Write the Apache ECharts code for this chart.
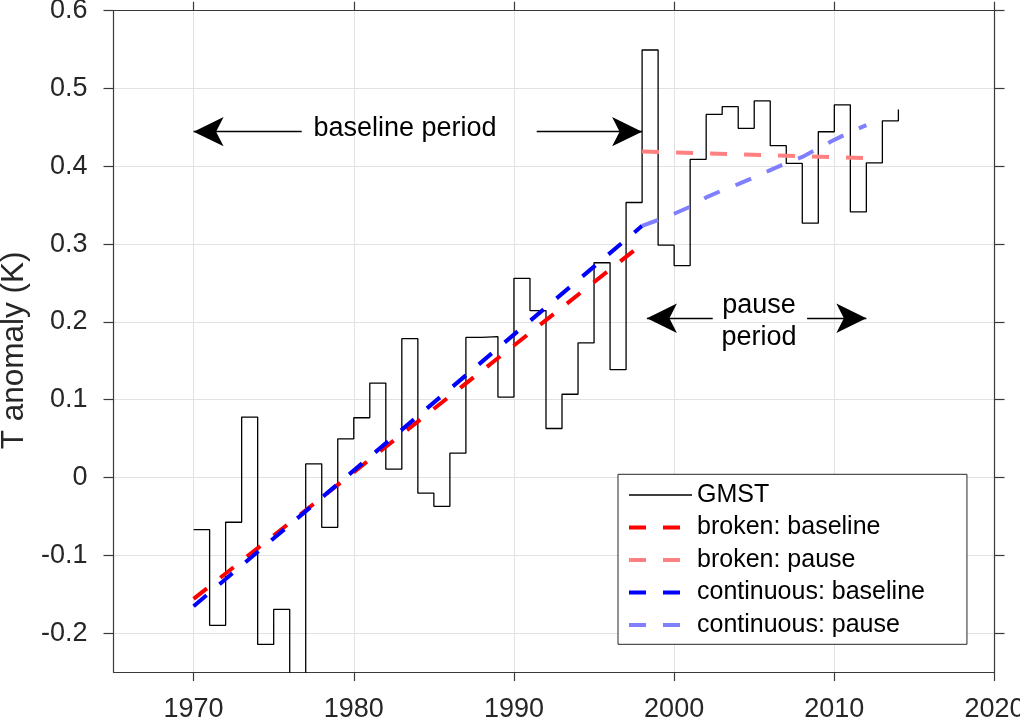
<!DOCTYPE html>
<html>
<head>
<meta charset="utf-8">
<script src="https://cdn.jsdelivr.net/npm/echarts@6/dist/echarts.min.js"></script>
<style>html,body{margin:0;padding:0;background:#fff}#c{width:1020px;height:720px}</style>
</head>
<body>
<div id="c"></div>
<script>
// ---- data ----
const years = [1970,1971,1972,1973,1974,1975,1976,1977,1978,1979,
               1980,1981,1982,1983,1984,1985,1986,1987,1988,1989,
               1990,1991,1992,1993,1994,1995,1996,1997,1998,1999,
               2000,2001,2002,2003,2004,2005,2006,2007,2008,2009,
               2010,2011,2012,2013,2014];
const gmst = [-0.067,-0.190,-0.0575,0.0777,-0.2145,-0.1695,-0.290,0.0176,-0.064,0.0497,
              0.0768,0.1214,0.0107,0.1785,-0.0202,-0.037,0.0313,0.180,0.181,0.1034,
              0.256,0.2145,0.063,0.107,0.173,0.276,0.1386,0.3535,0.5495,0.2986,
              0.2724,0.409,0.4667,0.4766,0.4488,0.484,0.4265,0.4037,0.3269,0.4444,
              0.479,0.3415,0.4045,0.4585,0.473];
const brokenBaseYears = [1970, 1998];
const brokenBaseVals  = [-0.156, 0.300];
const brokenPauseYears = [1998, 2012];
const brokenPauseVals  = [0.419, 0.4105];
const contBaseYears = [1970, 1998];
const contBaseVals  = [-0.1656, 0.3235];
const contPauseYears = [1998,1999,2000,2001,2002,2003,2004,2005,2006,2007,2008,2009,2010,2011,2012];
const contPauseVals  = [0.3235,0.331,0.339,0.348,0.360,0.369,0.377,0.386,0.395,0.404,0.412,0.423,0.434,0.444,0.453];
const xTicks = [1970,1980,1990,2000,2010,2020];
const yTicks = [-0.2,-0.1,0,0.1,0.2,0.3,0.4,0.5,0.6];
const seriesNames = ['GMST','broken: baseline','broken: pause','continuous: baseline','continuous: pause'];
// annotation arrows (data coordinates: from -> tip)
const arrowFrom = [[1976.75,0.4445],[1991.42,0.4445],[2002.41,0.2047],[2008.30,0.2047]];
const arrowTip  = [[1970.00,0.4445],[1998.00,0.4445],[1998.30,0.2047],[2012.00,0.2047]];
const noteTexts = ['baseline period','pause\nperiod'];
const noteAt    = [[1983.2,0.4480],[2005.3,0.2008]];

// ---- chart ----
const FONT = "'Liberation Sans', Arial, Helvetica, sans-serif";
const pairs = (xs, ys) => xs.map((x, i) => [x, ys[i]]);
const AX = '#3a3a3a';

const chart = echarts.init(document.getElementById('c'), null, {renderer: 'canvas'});

const baseX = {
  type: 'value', min: 1965, max: 2020,
  axisLine: {show: true, onZero: false, lineStyle: {color: AX, width: 1.2}},
  axisTick: {show: true, inside: false, length: 9, customValues: xTicks, lineStyle: {color: AX, width: 1.2}}
};
const baseY = {
  type: 'value', min: -0.25, max: 0.6,
  axisLine: {show: true, onZero: false, lineStyle: {color: AX, width: 1.2}},
  axisTick: {show: true, inside: false, length: 10, customValues: yTicks, lineStyle: {color: AX, width: 1.2}}
};

function lineSeries(name, data, color, width, dashed, extra) {
  return Object.assign({
    name: name, type: 'line', data: data, symbol: 'none', showSymbol: false,
    lineStyle: {color: color, width: width, type: dashed ? [17, 17] : 'solid', cap: 'butt'},
    itemStyle: {color: color},
    emphasis: {disabled: true}, silent: true, animation: false, clip: true
  }, extra || {});
}

chart.setOption({
  animation: false,
  backgroundColor: '#fff',
  textStyle: {fontFamily: FONT},
  grid: {left: 113.5, right: 25.5, top: 10.7, bottom: 48, containLabel: false, outerBoundsMode: 'none'},
  xAxis: [
    Object.assign({}, baseX, {
      position: 'bottom',
      axisLabel: {show: true, customValues: xTicks, fontSize: 27, color: '#262626', margin: 24, fontFamily: FONT,
                  formatter: v => String(v)},
      splitLine: {show: true, lineStyle: {color: '#e2e2e2', width: 1}}
    }),
    Object.assign({}, baseX, {
      position: 'top',
      axisLabel: {show: false},
      splitLine: {show: false}
    })
  ],
  yAxis: [
    Object.assign({}, baseY, {
      position: 'left',
      name: 'T anomaly (K)', nameLocation: 'middle', nameGap: 80,
      nameTextStyle: {fontSize: 31.5, color: '#262626', fontFamily: FONT, padding: [0, 18, 0, 0]},
      axisLabel: {show: true, customValues: yTicks, fontSize: 27, color: '#262626', margin: 26, fontFamily: FONT,
                  formatter: v => (Math.abs(v) < 1e-9 ? '0' : v.toFixed(1))},
      splitLine: {show: true, lineStyle: {color: '#e2e2e2', width: 1}}
    }),
    Object.assign({}, baseY, {
      position: 'right',
      axisLabel: {show: false},
      splitLine: {show: false}
    })
  ],
  legend: {
    data: seriesNames, orient: 'vertical', left: 618, top: 474.3,
    padding: [8.2, 42, 6.8, 9], itemWidth: 63, itemHeight: 14, itemGap: 7.5,
    borderColor: '#262626', borderWidth: 1, backgroundColor: '#fff',
    itemStyle: {color: 'rgba(0,0,0,0)', borderColor: 'rgba(0,0,0,0)'},
    lineStyle: {width: 'inherit', type: 'inherit', color: 'inherit'},
    textStyle: {fontSize: 25, color: '#000', fontFamily: FONT, lineHeight: 25},
    selectedMode: false, align: 'left'
  },
  series: [
    lineSeries(seriesNames[0], pairs(years, gmst), '#000000', 1.3, false, {step: 'end'}),
    lineSeries(seriesNames[1], pairs(brokenBaseYears, brokenBaseVals), '#ff0000', 4, true),
    lineSeries(seriesNames[2], pairs(brokenPauseYears, brokenPauseVals), '#ff8080', 4, true),
    lineSeries(seriesNames[3], pairs(contBaseYears, contBaseVals), '#0000ff', 4, true),
    lineSeries(seriesNames[4], pairs(contPauseYears, contPauseVals), '#8080ff', 4, true),
    {
      type: 'line', data: [], silent: true, animation: false, symbol: 'none',
      markLine: {
        silent: true, animation: false,
        symbol: ['none', 'arrow'], symbolSize: [22, 30],
        label: {show: false},
        emphasis: {disabled: true},
        lineStyle: {color: '#000', width: 1.3, type: 'solid'},
        itemStyle: {color: '#000'},
        data: arrowFrom.map((f, i) => [{coord: f}, {coord: arrowTip[i]}])
      },
      markPoint: {
        silent: true, animation: false,
        symbol: 'circle', symbolSize: 0,
        itemStyle: {color: 'rgba(0,0,0,0)'},
        label: {show: true, position: 'inside', formatter: p => p.name,
                fontSize: 27, color: '#000', lineHeight: 31.7, fontFamily: FONT, align: 'center', verticalAlign: 'middle'},
        data: noteTexts.map((t, i) => ({name: t, coord: noteAt[i]}))
      }
    }
  ]
});
</script>
</body>
</html>
